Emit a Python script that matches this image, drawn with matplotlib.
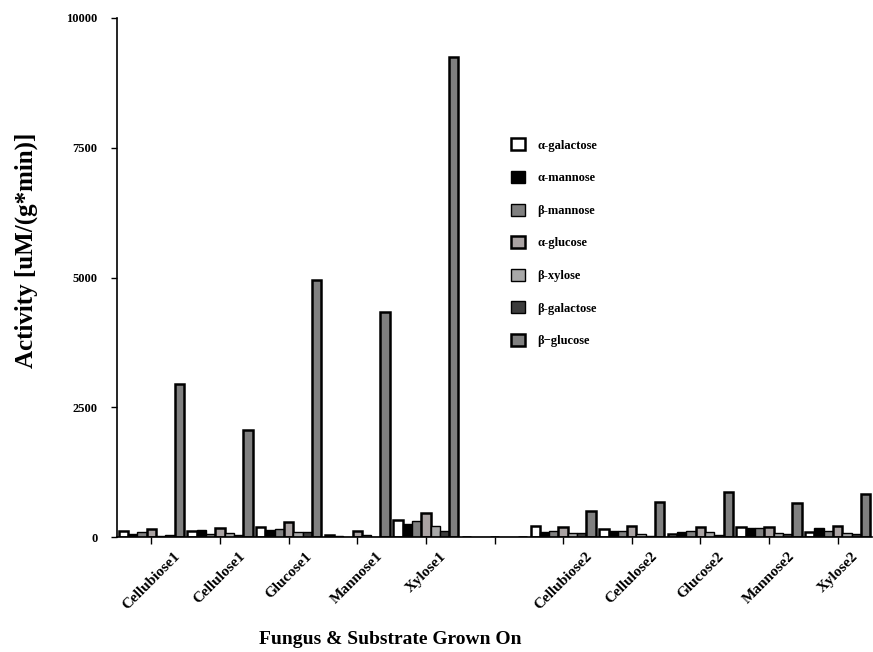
import numpy as np
import matplotlib.pyplot as plt

plt.rcParams['font.family'] = ['Liberation Serif', 'DejaVu Serif']

categories = ['Cellubiose1', 'Cellulose1', 'Glucose1', 'Mannose1', 'Xylose1', '',
              'Cellubiose2', 'Cellulose2', 'Glucose2', 'Mannose2', 'Xylose2']

series_names = ['α-galactose', 'α-mannose', 'β-mannose', 'α-glucose',
                'β-xylose', 'β-galactose', 'β−glucose']

alpha_galactose = [115, 120, 200, 30, 330, 0, 210, 150, 50, 190, 100]
alpha_mannose   = [50, 130, 140, 20, 250, 0, 100, 110, 100, 170, 170]
beta_mannose    = [100, 60, 160, 0, 310, 0, 110, 110, 120, 170, 110]
alpha_glucose   = [150, 175, 290, 110, 460, 0, 190, 210, 190, 190, 220]
beta_xylose     = [10, 70, 100, 30, 210, 0, 70, 50, 90, 80, 70]
beta_galactose  = [40, 40, 90, 0, 110, 0, 70, 15, 45, 50, 50]
beta_glucose    = [2950, 2060, 4950, 4340, 9250, 0, 500, 670, 870, 650, 820]

series = [alpha_galactose, alpha_mannose, beta_mannose, alpha_glucose,
          beta_xylose, beta_galactose, beta_glucose]
colors = ['#ffffff', '#000000', '#808080', '#aaa3a3', '#a8a8a8', '#3c3c3c', '#808080']
edge_w = [1.8, 1.0, 1.0, 1.8, 1.0, 1.0, 1.8]

fig = plt.figure(figsize=(8.73, 6.52), dpi=100)
ax = fig.add_axes([117/873, 115/652, 755/873, 519/652])

x = np.arange(len(categories))
bw = 0.1356
for i, vals in enumerate(series):
    offs = (i - 3) * bw
    ax.bar(x + offs, vals, width=bw, color=colors[i], edgecolor='black',
           linewidth=edge_w[i], label=series_names[i])

ax.set_xlim(-0.5, 10.5)
ax.set_ylim(0, 10000)
ax.set_yticks([0, 2500, 5000, 7500, 10000])
ax.set_xticks(x)
ax.set_xticklabels(categories, rotation=45, ha='center', va='top',
                   fontsize=11, fontweight='bold')
for lab in ax.get_yticklabels():
    lab.set_fontweight('bold')
    lab.set_fontsize(9)
ax.tick_params(axis='y', direction='out', length=4, width=1, pad=10)
ax.tick_params(axis='x', direction='out', length=5, width=1, pad=4)

for s in ['top', 'right']:
    ax.spines[s].set_visible(False)
for s in ['left', 'bottom']:
    ax.spines[s].set_linewidth(1.2)

fig.text(26/873, 1 - 250/652, 'Activity [uM/(g*min)]', rotation=90,
         ha='center', va='center', fontsize=18, fontweight='bold')
fig.text(390/873, 1 - 640/652, 'Fungus & Substrate Grown On',
         ha='center', va='center', fontsize=14, fontweight='bold')

leg = ax.legend(loc='upper left', bbox_to_anchor=(505/873, 1 - 132/652),
                bbox_transform=fig.transFigure, frameon=False, borderpad=0,
                labelspacing=1.55, handlelength=1.1, handleheight=1.1,
                handletextpad=1.0, prop={'size': 9, 'weight': 'bold'})

fig.savefig('out.png', dpi=100)
